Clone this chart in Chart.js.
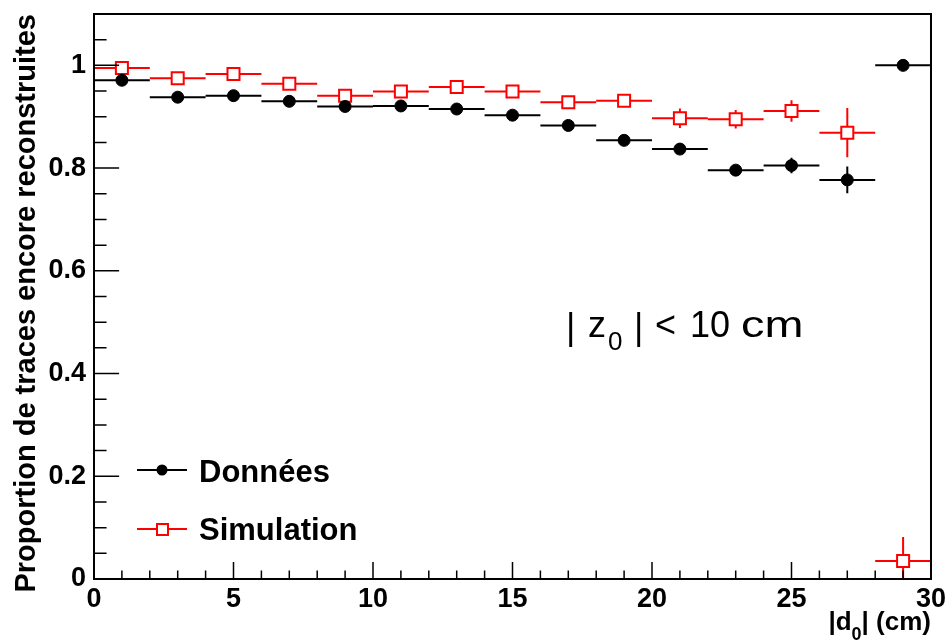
<!DOCTYPE html>
<html>
<head>
<meta charset="utf-8">
<title>Proportion de traces encore reconstruites</title>
<script src="https://cdn.jsdelivr.net/npm/chart.js@4.4.1/dist/chart.umd.min.js"></script>
<style>
  html, body { margin: 0; padding: 0; background: #fff; }
  canvas { display: block; }
</style>
</head>
<body>
<canvas id="effChart" width="947" height="643"></canvas>
<script>
// bins of |d0| (cm), 2 cm wide
const binCenters = [1, 3, 5, 7, 9, 11, 13, 15, 17, 19, 21, 23, 25, 27, 29];
const binHalfWidth = [1, 1, 1, 1, 1, 1, 1, 1, 1, 1, 1, 1, 1, 1, 1];

// Données (black dots)
const donnees = [0.971, 0.938, 0.941, 0.930, 0.920, 0.921, 0.915, 0.903, 0.883, 0.854, 0.837, 0.796, 0.805, 0.777, 1.0];
const donneesErr = [0.003, 0.003, 0.003, 0.003, 0.004, 0.004, 0.004, 0.005, 0.006, 0.007, 0.008, 0.010, 0.015, 0.026, 0.0];

// Simulation (red open squares)
const simulation = [0.995, 0.975, 0.983, 0.964, 0.941, 0.949, 0.958, 0.949, 0.928, 0.931, 0.897, 0.895, 0.911, 0.869, 0.035];
const simulationErr = [0.003, 0.004, 0.004, 0.005, 0.006, 0.006, 0.007, 0.008, 0.009, 0.011, 0.019, 0.018, 0.021, 0.048, 0.047];

// axis ticks
const xTicks = [0, 5, 10, 15, 20, 25, 30];
const xMinorTicks = Array.from({ length: 31 }, (_, i) => i);
const yTicks = [0, 0.2, 0.4, 0.6, 0.8, 1];
const yMinorTicks = Array.from({ length: 23 }, (_, i) => i * 0.05);

const FONT = "'Liberation Sans', Arial, sans-serif";

function toPoints(values, errors) {
  return binCenters.map((x, i) => ({ x: x, y: values[i], xErr: binHalfWidth[i], yErr: errors[i] }));
}

// error bars (drawn before the markers so markers sit on top)
const errorBars = {
  id: "errorBars",
  beforeDatasetsDraw(chart) {
    const { ctx, chartArea, scales } = chart;
    ctx.save();
    ctx.beginPath();
    ctx.rect(chartArea.left, chartArea.top, chartArea.right - chartArea.left, chartArea.bottom - chartArea.top);
    ctx.clip();
    chart.data.datasets.forEach((ds) => {
      ctx.strokeStyle = ds.borderColor;
      ctx.lineWidth = 2;
      ds.data.forEach((p) => {
        const px = scales.x.getPixelForValue(p.x);
        const py = scales.y.getPixelForValue(p.y);
        ctx.beginPath();
        ctx.moveTo(scales.x.getPixelForValue(p.x - p.xErr), py);
        ctx.lineTo(scales.x.getPixelForValue(p.x + p.xErr), py);
        if (p.yErr > 0) {
          ctx.moveTo(px, scales.y.getPixelForValue(p.y - p.yErr));
          ctx.lineTo(px, scales.y.getPixelForValue(p.y + p.yErr));
        }
        ctx.stroke();
      });
    });
    ctx.restore();
  }
};

// ROOT style frame with inward ticks, legend and labels
const frameAndText = {
  id: "frameAndText",
  afterDraw(chart) {
    const { ctx, chartArea, scales } = chart;
    const { left, right, top, bottom } = chartArea;
    ctx.save();
    ctx.strokeStyle = "#000";
    ctx.lineWidth = 2;
    ctx.strokeRect(left, top, right - left, bottom - top);

    ctx.beginPath();
    const xMajorLen = 0.03 * (bottom - top);
    xMinorTicks.forEach((v) => {
      const px = scales.x.getPixelForValue(v);
      const len = xTicks.includes(v) ? xMajorLen : xMajorLen / 2;
      ctx.moveTo(px, bottom);
      ctx.lineTo(px, bottom - len);
    });
    const yMajorLen = 0.03 * (right - left);
    yMinorTicks.forEach((v) => {
      const py = scales.y.getPixelForValue(v);
      if (py < top) return;
      const isMajor = yTicks.some((t) => Math.abs(t - v) < 1e-6);
      ctx.moveTo(left, py);
      ctx.lineTo(left + (isMajor ? yMajorLen : yMajorLen / 2), py);
    });
    ctx.lineWidth = 1.5;
    ctx.stroke();

    // legend
    ctx.lineWidth = 2;
    ctx.strokeStyle = "#000";
    ctx.beginPath();
    ctx.moveTo(137, 470);
    ctx.lineTo(187, 470);
    ctx.stroke();
    ctx.fillStyle = "#000";
    ctx.beginPath();
    ctx.arc(162, 470, 5.5, 0, Math.PI * 2);
    ctx.fill();

    ctx.strokeStyle = "#ff0000";
    ctx.beginPath();
    ctx.moveTo(137, 529);
    ctx.lineTo(187, 529);
    ctx.stroke();
    ctx.fillStyle = "#fff";
    ctx.fillRect(157, 524, 11, 11);
    ctx.strokeRect(157, 524, 11, 11);

    ctx.fillStyle = "#000";
    ctx.textBaseline = "alphabetic";
    ctx.textAlign = "left";
    ctx.font = "bold 31px " + FONT;
    ctx.fillText("Données", 199, 482);
    ctx.fillText("Simulation", 199, 540);

    // |z0| < 10 cm
    ctx.font = "36px " + FONT;
    ctx.fillText("|", 566, 339);
    ctx.fillText("z", 588, 337);
    ctx.fillText("|", 634, 339);
    ctx.fillText("<", 655, 337);
    ctx.fillText("10", 690, 337);
    ctx.save();
    ctx.translate(741, 337);
    ctx.scale(1.3, 1);
    ctx.fillText("cm", 0, 0);
    ctx.restore();
    ctx.font = "26px " + FONT;
    ctx.fillText("0", 608, 350);

    // x axis title |d0| (cm), right aligned on the axis end
    ctx.font = "bold 26px " + FONT;
    const partA = "|d";
    const partC = "| (cm)";
    const wA = ctx.measureText(partA).width;
    const wC = ctx.measureText(partC).width;
    ctx.font = "bold 18px " + FONT;
    const wB = ctx.measureText("0").width;
    let x0 = right - (wA + wB + wC);
    ctx.font = "bold 26px " + FONT;
    ctx.fillText(partA, x0, 630);
    ctx.font = "bold 18px " + FONT;
    ctx.fillText("0", x0 + wA, 640);
    ctx.font = "bold 26px " + FONT;
    ctx.fillText(partC, x0 + wA + wB, 630);
    ctx.restore();
  }
};

// keep the plot frame where the layout padding puts it
function noScalePadding(axis) {
  axis.paddingTop = 0;
  axis.paddingBottom = 0;
  axis.paddingLeft = 0;
  axis.paddingRight = 0;
}

const ctx = document.getElementById("effChart").getContext("2d");
new Chart(ctx, {
  type: "scatter",
  data: {
    datasets: [
      {
        label: "Données",
        data: toPoints(donnees, donneesErr),
        pointStyle: "circle",
        pointRadius: 6,
        pointBackgroundColor: "#000",
        borderColor: "#000",
        pointBorderWidth: 1,
        showLine: false
      },
      {
        label: "Simulation",
        data: toPoints(simulation, simulationErr),
        pointStyle: "rect",
        pointRadius: 8.5,
        pointBackgroundColor: "#fff",
        borderColor: "#ff0000",
        pointBorderWidth: 2,
        showLine: false
      }
    ]
  },
  options: {
    responsive: false,
    animation: false,
    layout: { padding: { top: 14, right: 16, left: 0, bottom: 0 } },
    plugins: {
      legend: { display: false },
      tooltip: { enabled: false }
    },
    scales: {
      x: {
        type: "linear",
        min: 0,
        max: 30,
        grid: { display: false, drawTicks: false },
        border: { display: false },
        afterBuildTicks: (axis) => { axis.ticks = xTicks.map((v) => ({ value: v })); },
        afterFit: (axis) => { axis.height = 64; noScalePadding(axis); },
        ticks: {
          color: "#000",
          padding: 4,
          maxRotation: 0,
          font: { family: FONT, size: 27, weight: "bold" }
        }
      },
      y: {
        type: "linear",
        min: 0,
        max: 1.1,
        grid: { display: false, drawTicks: false },
        border: { display: false },
        afterBuildTicks: (axis) => { axis.ticks = yTicks.map((v) => ({ value: v })); },
        afterFit: (axis) => { axis.width = 94; noScalePadding(axis); },
        ticks: {
          color: "#000",
          padding: 8,
          font: { family: FONT, size: 27, weight: "bold" },
          callback: (v) => String(Math.round(v * 10) / 10)
        },
        title: {
          display: true,
          text: "Proportion de traces encore reconstruites",
          align: "end",
          color: "#000",
          padding: { top: 10, bottom: 0 },
          font: { family: FONT, size: 29, weight: "bold" }
        }
      }
    }
  },
  plugins: [errorBars, frameAndText]
});
</script>
</body>
</html>
